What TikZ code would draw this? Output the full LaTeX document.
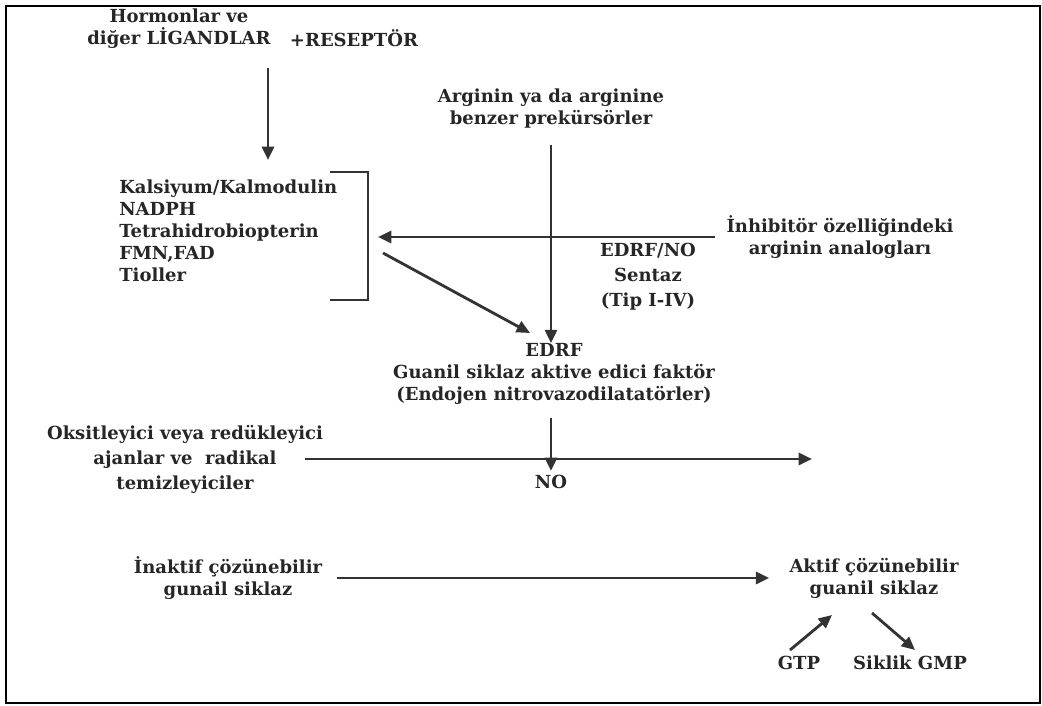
\documentclass[tikz,border=0pt]{standalone}
\usepackage{fontspec}
\setmainfont{DejaVu Serif}
\usetikzlibrary{arrows.meta}
\begin{document}
\begin{tikzpicture}[x=0.75pt,y=-0.75pt,
  lbl/.style={font=\bfseries\fontsize{13.5}{16.5}\selectfont, align=center, inner sep=0pt, text=black!85},
  lbw/.style={lbl, font=\bfseries\fontsize{13.5}{18.75}\selectfont},
  arr/.style={line width=2.1pt, draw=black!80, -{Triangle[length=10pt,width=9pt]}},
  ln/.style={line width=1.6pt, draw=black!80}]
\useasboundingbox (0,0) rectangle (1042,706);
\draw[line width=1.1pt] (6,6) rectangle (1040,703);

\node[lbl] (horm) at (179,29) {Hormonlar ve\\diğer LİGANDLAR};
\node[lbl] (resep) at (354,38) {+RESEPTÖR};
\node[lbl] (arg) at (551,109) {Arginin ya da arginine\\benzer prekürsörler};
\node[lbl, align=left, anchor=west] (list) at (119,230.5) {Kalsiyum/Kalmodulin\\NADPH\\Tetrahidrobiopterin\\FMN,FAD\\Tioller};
\node[lbl] (inh) at (840,237) {İnhibitör özelliğindeki\\arginin analogları};
\node[lbw] (syn) at (648,277) {EDRF/NO\\Sentaz\\(Tip I-IV)};
\node[lbl] (edrf) at (554,374) {EDRF\\Guanil siklaz aktive edici faktör\\(Endojen nitrovazodilatatörler)};
\node[lbl] (no) at (551,482) {NO};
\node[lbw] (oks) at (185,459) {Oksitleyici veya redükleyici\\ajanlar ve\ \ radikal\\temizleyiciler};
\node[lbl] (inak) at (228,578) {İnaktif çözünebilir\\gunail siklaz};
\node[lbl] (akt) at (874,578) {Aktif çözünebilir\\guanil siklaz};
\node[lbl] (gtp) at (799,663) {GTP};
\node[lbl] (cgmp) at (910,663) {Siklik GMP};

\coordinate (h1) at (268,68);
\coordinate (h2) at (268,160);
\coordinate (i1) at (715,237);
\coordinate (i2) at (378,237);
\coordinate (d1) at (383,253);
\coordinate (d2) at (530,333);
\coordinate (o1) at (305,459);
\coordinate (o2) at (812,459);
\coordinate (g1) at (790,650);
\coordinate (g2) at (832,615);
\coordinate (c1) at (872,613);
\coordinate (c2) at (915,650);

\draw[ln] (330,172) -- (368,172) -- (368,300) -- (330,300);

\draw[arr] (h1) -- (h2);
\draw[arr, shorten <=12pt] (arg.south) -- (edrf.north -| arg.south);
\draw[arr] (i1) -- (i2);
\draw[arr] (d1) -- (d2);
\draw[arr, shorten <=10pt, shorten >=3pt] (edrf.south -| no.north) -- (no.north);
\draw[arr] (o1) -- (o2);
\draw[arr, shorten <=11pt, shorten >=15pt] (inak.east) -- (akt.west);
\draw[arr] (g1) -- (g2);
\draw[arr] (c1) -- (c2);
\end{tikzpicture}
\end{document}
